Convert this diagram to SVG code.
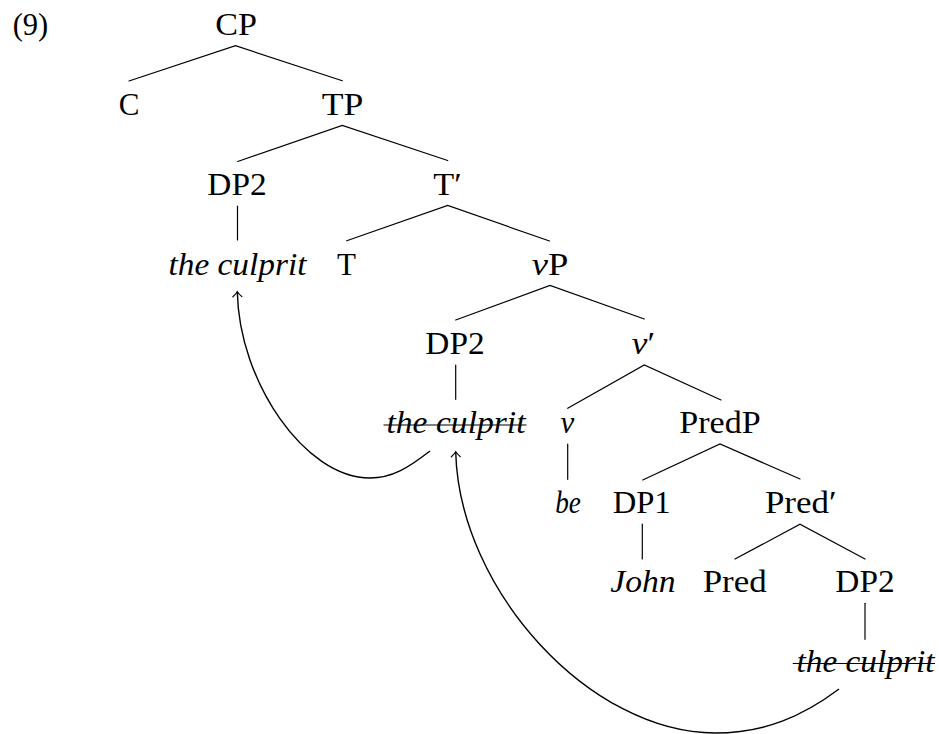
<svg xmlns="http://www.w3.org/2000/svg" width="939" height="734" viewBox="0 0 939 734">
<defs>
<style>
text{font-family:"Liberation Serif","Times New Roman",serif;font-size:31px;fill:#000;text-anchor:middle}
.it{font-style:italic}
.e{stroke:#000;stroke-width:1.2;fill:none;stroke-linecap:round}
.mv{stroke:#000;stroke-width:1.4;fill:none}
.st{stroke:#000;stroke-width:1.2}
</style>
<marker id="ah" viewBox="-7 -6 9 12" markerWidth="9" markerHeight="12" refX="0" refY="0" orient="auto" markerUnits="userSpaceOnUse">
<path d="M-5,-4.5 Q-2,-1.2 0,0 Q-2,1.2 -5,4.5" fill="none" stroke="#000" stroke-width="1.2" stroke-linecap="round"/>
</marker>
</defs>
<rect width="939" height="734" fill="#fff"/>
<g font-family="'Liberation Serif', 'Times New Roman', serif">
<text x="30.5" y="35" textLength="35.6" lengthAdjust="spacingAndGlyphs">(9)</text>
<g id="n-CP"><text x="236" y="35" textLength="41.7" lengthAdjust="spacingAndGlyphs">CP</text></g>
<g id="n-C"><text x="129" y="115">C</text></g>
<g id="n-TP"><text x="342.5" y="115" textLength="41.6" lengthAdjust="spacingAndGlyphs">TP</text></g>
<g id="n-DP2a"><text x="237" y="194.5" textLength="59.3" lengthAdjust="spacingAndGlyphs">DP2</text></g>
<g id="n-Tbar"><text x="447.5" y="194.5" textLength="28.4" lengthAdjust="spacingAndGlyphs">T′</text></g>
<g id="n-culprit1"><text class="it" x="237.5" y="275" textLength="138" lengthAdjust="spacingAndGlyphs">the culprit</text></g>
<g id="n-T"><text x="346.5" y="274.5">T</text></g>
<g id="n-vP"><text x="550" y="274.5" textLength="36.6" lengthAdjust="spacingAndGlyphs"><tspan class="it">v</tspan>P</text></g>
<g id="n-DP2b"><text x="455" y="354" textLength="59.3" lengthAdjust="spacingAndGlyphs">DP2</text></g>
<g id="n-vbar"><text x="643.5" y="353.5" textLength="23.3" lengthAdjust="spacingAndGlyphs"><tspan class="it">v</tspan>′</text></g>
<g id="n-culprit2"><text class="it" x="456" y="433" textLength="139" lengthAdjust="spacingAndGlyphs">the culprit</text><line class="st" x1="383.5" y1="425" x2="526.5" y2="425"/></g>
<g id="n-v"><text class="it" x="567.5" y="433">v</text></g>
<g id="n-PredP"><text x="720" y="433" textLength="81.3" lengthAdjust="spacingAndGlyphs">PredP</text></g>
<g id="n-be"><text class="it" x="568" y="513" textLength="25.7" lengthAdjust="spacingAndGlyphs">be</text></g>
<g id="n-DP1"><text x="641.7" y="513" textLength="58" lengthAdjust="spacingAndGlyphs">DP1</text></g>
<g id="n-Predbar"><text x="800.8" y="513" textLength="71.7" lengthAdjust="spacingAndGlyphs">Pred′</text></g>
<g id="n-John"><text class="it" x="643" y="592.3" textLength="65.3" lengthAdjust="spacingAndGlyphs">John</text></g>
<g id="n-Pred"><text x="734.7" y="592.3" textLength="64" lengthAdjust="spacingAndGlyphs">Pred</text></g>
<g id="n-DP2c"><text x="865" y="592.3" textLength="59.3" lengthAdjust="spacingAndGlyphs">DP2</text></g>
<g id="n-culprit3"><text class="it" x="865.5" y="672" textLength="138" lengthAdjust="spacingAndGlyphs">the culprit</text><line class="st" x1="792.7" y1="663.5" x2="935" y2="663.5"/></g>
</g>
<g id="edges">
<path class="e" d="M129,81 L235.5,45.7 L342.3,80.7"/>
<path class="e" d="M237.7,161.5 L342.3,125.5 L447.7,160.5"/>
<path class="e" d="M237.5,206 L237.5,240"/>
<path class="e" d="M346.7,240.7 L447.7,205.5 L549.5,241"/>
<path class="e" d="M455.7,320 L550,285.5 L644.3,319"/>
<path class="e" d="M455.7,365 L455.7,399.3"/>
<path class="e" d="M567.7,408.3 L644.3,365 L721,400"/>
<path class="e" d="M567.7,444 L567.7,479.3"/>
<path class="e" d="M642.7,480 L720,444 L800,479"/>
<path class="e" d="M642.3,524 L642.3,559"/>
<path class="e" d="M735,559 L800,524.3 L865,559"/>
<path class="e" d="M865,603.3 L865,639.3"/>
<path class="mv" marker-end="url(#ah)" d="M430,451 C408,468 392,478 370,478 C305,478 239,382 237.3,291.7"/>
<path class="mv" marker-end="url(#ah)" d="M839,689 C803,716 765,733 715,733 C590,733 459,590 455.7,451.7"/>
</g>
</svg>
